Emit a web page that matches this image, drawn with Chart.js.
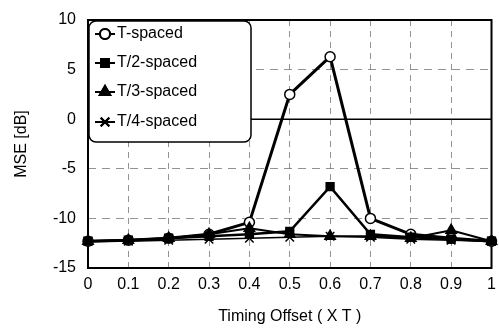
<!DOCTYPE html>
<html><head><meta charset="utf-8">
<script src="https://cdn.jsdelivr.net/npm/chart.js@4"></script>
<style>html,body{margin:0;padding:0;background:#fff}#wrap{width:499px;height:330px}</style>
</head><body><div id="wrap"><canvas id="c" width="499" height="330"></canvas></div>
<script>
const xLabels = ['0','0.1','0.2','0.3','0.4','0.5','0.6','0.7','0.8','0.9','1'];
const yTicks = [10, 5, 0, -5, -10, -15];
const seriesNames = ['T-spaced','T/2-spaced','T/3-spaced','T/4-spaced'];
const tSpaced  = [-12.3,-12.2,-12.0,-11.6,-10.4, 2.5, 6.3,-10.0,-11.6,-12.0,-12.3];
const t2Spaced = [-12.3,-12.2,-12.0,-11.8,-11.6,-11.3,-6.8,-11.6,-11.9,-12.1,-12.3];
const t3Spaced = [-12.3,-12.2,-12.0,-11.6,-11.0,-11.6,-11.8,-11.8,-12.0,-11.2,-12.3];
const t4Spaced = [-12.3,-12.3,-12.2,-12.1,-12.0,-11.9,-11.8,-11.9,-12.1,-12.2,-12.3];

const FONT = 'Liberation Sans, Arial, sans-serif';
const styles = [
  {pointStyle:'circle', bg:'#fff', r:5, lw:3},
  {pointStyle:'rect', bg:'#000', r:5.5, lw:2.5},
  {pointStyle:'triangle', bg:'#000', r:6, lw:2},
  {pointStyle:'crossRot', bg:'#000', r:6, lw:1.5}
];
const values = [tSpaced, t2Spaced, t3Spaced, t4Spaced];

const datasets = values.map((v,i)=>({
  label: seriesNames[i], data: v,
  borderColor:'#000', backgroundColor: styles[i].bg,
  borderWidth: styles[i].lw, pointStyle: styles[i].pointStyle,
  pointRadius: styles[i].r, pointBorderColor:'#000', pointBackgroundColor: styles[i].bg,
  pointBorderWidth: 1.5, tension: 0, clip:false
})).reverse();

const framePlugin = {
  id:'frame',
  beforeDatasetsDraw(chart){
    const {ctx, chartArea:a, scales:{y}} = chart;
    ctx.save();
    ctx.strokeStyle='#000'; ctx.lineWidth=1.5; ctx.setLineDash([]);
    const y0 = y.getPixelForValue(0);
    ctx.beginPath(); ctx.moveTo(a.left,y0); ctx.lineTo(a.right,y0); ctx.stroke();
    ctx.lineWidth=2;
    ctx.strokeRect(a.left,a.top,a.right-a.left,a.bottom-a.top);
    ctx.restore();
  },
  afterDatasetsDraw(chart){
    const {ctx, chartArea:a} = chart;
    ctx.save();
    const x0=a.left+1, y0=a.top+1, w=162, h=121, r=7;
    ctx.fillStyle='#fff'; ctx.strokeStyle='#000'; ctx.lineWidth=1.5;
    ctx.beginPath(); ctx.roundRect(x0,y0,w,h,r); ctx.fill(); ctx.stroke();
    ctx.font = '16px '+FONT; ctx.textBaseline='middle'; ctx.fillStyle='#000';
    const rows=[14,43,72,102];
    seriesNames.forEach((n,i)=>{
      const cy=a.top+rows[i], cx=a.left+17;
      ctx.lineWidth=2; ctx.beginPath(); ctx.moveTo(cx-10,cy); ctx.lineTo(cx+10,cy); ctx.stroke();
      Chart.helpers.drawPoint(ctx,{pointStyle:styles[i].pointStyle, radius:styles[i].r, borderWidth:1.5}, cx, cy);
      ctx.fillStyle=styles[i].bg; ctx.fill(); ctx.stroke(); ctx.fillStyle='#000';
      ctx.fillText(n,cx+12,cy);
    });
    ctx.restore();
  }
};

new Chart(document.getElementById('c'),{
  type:'line',
  data:{labels:xLabels, datasets},
  options:{
    responsive:false, animation:false,
    layout:{padding:{top:20,right:4,left:8,bottom:0}},
    plugins:{legend:{display:false}, tooltip:{enabled:false}},
    scales:{
      x:{
        offset:false,
        grid:{color:'#777', lineWidth:0.8, drawTicks:false},
        border:{display:false, dash:[6,5]},
        ticks:{font:{family:FONT,size:16}, color:'#000', padding:7, maxRotation:0},
        title:{display:true, text:'Timing Offset ( X T )', font:{family:FONT,size:16}, color:'#000', padding:{top:14}},
        afterFit(s){ s.height = 62; s.paddingRight = 0; s.paddingLeft = 0; }
      },
      y:{
        min:-15, max:10,
        afterBuildTicks(s){ s.ticks = yTicks.map(v=>({value:v})); },
        grid:{color:'#777', lineWidth:0.8, drawTicks:false},
        border:{display:false, dash:[8,6]},
        ticks:{font:{family:FONT,size:16}, color:'#000', padding:12},
        title:{display:true, text:'MSE [dB]', font:{family:FONT,size:16}, color:'#000'},
        afterFit(s){ s.width = 80; s.paddingTop = 0; s.paddingBottom = 0; }
      }
    }
  },
  plugins:[framePlugin]
});
</script></body></html>
